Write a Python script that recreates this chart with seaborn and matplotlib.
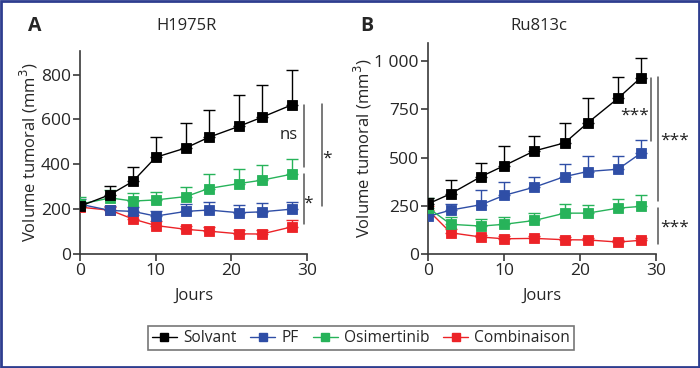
import matplotlib
matplotlib.use("Agg")
import matplotlib.pyplot as plt
import seaborn as sns
import pandas as pd
from matplotlib.patches import Rectangle
from matplotlib.lines import Line2D

# ---- data ----
series = ["Solvant", "PF", "Osimertinib", "Combinaison"]
colors = {"Solvant": "#000000", "PF": "#2f4ea6", "Osimertinib": "#27b35a", "Combinaison": "#ec2327"}

days_a = [0, 4, 7, 10, 14, 17, 21, 24, 28]
a_solvant = [213, 265, 324, 431, 473, 520, 569, 609, 665]
a_solvant_err = [20, 40, 64, 89, 112, 121, 141, 144, 156]
a_pf = [222, 194, 190, 169, 190, 196, 184, 188, 200]
a_pf_err = [25, 19, 20, 24, 34, 34, 35, 40, 33]
a_osi = [222, 250, 236, 241, 256, 292, 314, 329, 356]
a_osi_err = [33, 34, 37, 36, 43, 64, 64, 67, 68]
a_comb = [209, 195, 156, 127, 110, 102, 90, 89, 121]
a_comb_err = [20, 15, 17, 21, 17, 17, 17, 18, 29]

days_b = [0, 3, 7, 10, 14, 18, 21, 25, 28]
b_solvant = [260, 313, 402, 458, 535, 577, 680, 808, 915]
b_solvant_err = [30, 69, 68, 102, 76, 102, 132, 113, 102]
b_pf = [195, 228, 256, 304, 347, 402, 428, 440, 523]
b_pf_err = [30, 33, 77, 71, 55, 66, 82, 70, 69]
b_osi = [240, 154, 145, 154, 174, 212, 212, 238, 247]
b_osi_err = [50, 39, 35, 38, 38, 47, 40, 49, 57]
b_comb = [228, 110, 88, 79, 81, 74, 73, 62, 71]
b_comb_err = [21, 21, 12, 12, 12, 12, 12, 12, 14]

panels = [
    dict(letter="A", title="H1975R", days=days_a,
         vals={"Solvant": (a_solvant, a_solvant_err), "PF": (a_pf, a_pf_err),
               "Osimertinib": (a_osi, a_osi_err), "Combinaison": (a_comb, a_comb_err)},
         ylim=(0, 905), yticks=[0, 200, 400, 600, 800], yticklabels=["0", "200", "400", "600", "800"],
         ylabel_x=-0.178,
         brackets=[(29.6, 390, 665, "ns", 27.6, 530), (29.6, 133, 357, "*", 30.2, 225),
                   (32.0, 213, 667, "*", 32.6, 425)]),
    dict(letter="B", title="Ru813c", days=days_b,
         vals={"Solvant": (b_solvant, b_solvant_err), "PF": (b_pf, b_pf_err),
               "Osimertinib": (b_osi, b_osi_err), "Combinaison": (b_comb, b_comb_err)},
         ylim=(0, 1095), yticks=[0, 250, 500, 750, 1000], yticklabels=["0", "250", "500", "750", "1 000"],
         ylabel_x=-0.236,
         brackets=[(29.4, 585, 915, "***", 27.2, 720), (30.2, 275, 919, "***", 32.4, 590),
                   (30.2, 50, 240, "***", 32.4, 135)]),
]

sns.set_theme(style="white")
plt.rcParams["font.family"] = ["Open Sans", "DejaVu Sans"]

fig = plt.figure(figsize=(7.0, 3.68), dpi=100)
axA = fig.add_axes([80 / 700, 1 - 254 / 368, 227 / 700, 203 / 368])
axB = fig.add_axes([428 / 700, 1 - 254 / 368, 228 / 700, 211 / 368])

draw_order = ["Combinaison", "PF", "Osimertinib", "Solvant"]
spine_col = "#3a3a3a"

for ax, p in zip([axA, axB], panels):
    rows = []
    for s in series:
        v, e = p["vals"][s]
        for d, vv, ee in zip(p["days"], v, e):
            rows.append(dict(day=d, value=vv, err=ee, group=s))
    df = pd.DataFrame(rows)
    for z, s in enumerate(draw_order):
        sub = df[df.group == s]
        ax.errorbar(sub.day, sub.value, yerr=[[0] * len(sub), sub.err], fmt="none",
                    ecolor=colors[s], elinewidth=1.0, capsize=4.3, capthick=1.0, zorder=2 + z * 2)
        sns.lineplot(data=sub, x="day", y="value", color=colors[s], marker="s", markersize=6.8,
                     markeredgecolor=colors[s], markeredgewidth=0.6, linewidth=1.0,
                     ax=ax, legend=False, zorder=3 + z * 2)
    ax.set_xlim(0, 30)
    ax.set_ylim(*p["ylim"])
    ax.set_xticks([0, 10, 20, 30])
    ax.set_yticks(p["yticks"])
    ax.set_yticklabels(p["yticklabels"])
    ax.set_xlabel("Jours", fontsize=12, labelpad=6)
    ax.set_ylabel("Volume tumoral (mm$^3$)", fontsize=12)
    ax.yaxis.set_label_coords(p["ylabel_x"], 0.5)
    ax.tick_params(axis="both", labelsize=12.5, length=5, width=1.2, color=spine_col,
                   direction="out", bottom=True, left=True, pad=1.5)
    for sp in ["top", "right"]:
        ax.spines[sp].set_visible(False)
    for sp in ["left", "bottom"]:
        ax.spines[sp].set_color(spine_col)
        ax.spines[sp].set_linewidth(1.2)
    for x, y0, y1, txt, tx, ty in p["brackets"]:
        ax.add_line(Line2D([x, x], [y0, y1], color="#555555", lw=1.1, clip_on=False))
        ax.text(tx, ty, txt, fontsize=12 if txt == "ns" else 12.5, ha="center", va="center",
                color="#222222", clip_on=False)

fig.text(187 / 700, 1 - 26 / 368, panels[0]["title"], fontsize=12, ha="center", va="center")
fig.text(539 / 700, 1 - 26 / 368, panels[1]["title"], fontsize=12, ha="center", va="center")
fig.text(35 / 700, 1 - 26 / 368, panels[0]["letter"], fontsize=14, fontweight="bold", ha="center", va="center")
fig.text(367 / 700, 1 - 26 / 368, panels[1]["letter"], fontsize=14, fontweight="bold", ha="center", va="center")

# legend
handles = [Line2D([], [], color=colors[s], marker="s", markersize=5.5, lw=1.0) for s in series]
leg = fig.legend(handles, series, loc="center", bbox_to_anchor=(361 / 700, 1 - 338 / 368),
                 ncol=4, frameon=True, fontsize=11.2, handlelength=1.6, handletextpad=0.4,
                 columnspacing=0.9, borderpad=0.25, fancybox=False)
leg.get_frame().set_edgecolor("#555555")
leg.get_frame().set_linewidth(1.2)

# outer border
fig.add_artist(Rectangle((0.001, 0.002), 0.997, 0.996, transform=fig.transFigure,
                         fill=False, edgecolor="#2e3d8f", lw=2.0))

fig.savefig("out.png", dpi=100)
